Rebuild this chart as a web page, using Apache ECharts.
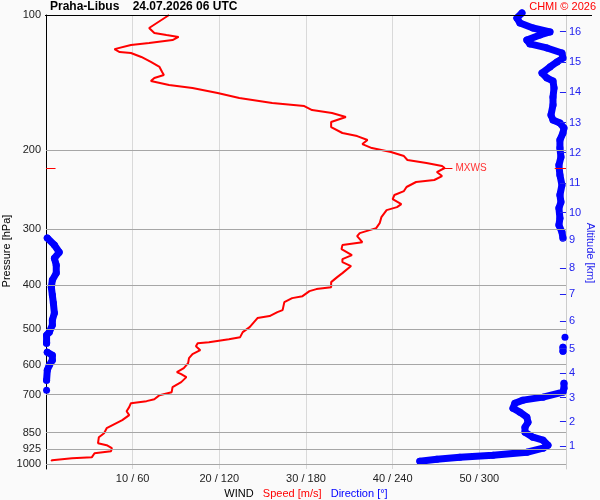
<!DOCTYPE html>
<html><head><meta charset="utf-8">
<script src="https://cdn.jsdelivr.net/npm/echarts@6/dist/echarts.min.js"></script>
<style>html,body{margin:0;padding:0;background:#fafafa}#c{width:600px;height:500px}</style>
</head><body><div id="c"></div>
<script>
// ---- data ----
const titleText = 'Praha-Libus    24.07.2026 06 UTC';
const creditText = 'CHMI © 2026';
const pressureTicks = [100, 200, 300, 400, 500, 600, 700, 850, 925, 1000];
const speedTicks = [10, 20, 30, 40, 50];
const speedTickLabels = ['10 / 60', '20 / 120', '30 / 180', '40 / 240', '50 / 300'];
const altitudeKm = [1, 2, 3, 4, 5, 6, 7, 8, 9, 10, 11, 12, 13, 14, 15, 16];
const altitudePressure = [911.1, 804.4, 711.2, 627.7, 553.3, 480.0, 418.6, 366.4, 316.9, 275.5, 236.3, 202.6, 173.7, 148.6, 127.4, 108.9];
const mxwsPressure = 219.1;
const mxwsSpeed = 46.0;

// wind speed profile (hPa, m/s)
const speedLevels = [100,106.9,109.7,110.8,111.9,113.7,115.4,116.6,119.1,120.9,
121.5,124.0,127.2,130.5,133.9,136.0,138.1,140.3,143.2,145.4,
149.2,153.1,157.0,159.5,162.8,165.3,168.7,173.1,177.6,183.1,
186.0,189.8,193.8,197.8,201.9,206.1,210.3,213.6,216.9,219.1,
223.7,228.3,233.0,235.4,241.5,246.6,251.6,256.9,263.6,267.7,
271.9,281.8,290.7,298.2,305.9,310.7,320.4,325.3,332.1,342.5,
349.6,354.9,362.2,375.5,383.3,393.3,403.5,407.6,411.9,422.6,
426.9,435.8,453.9,458.6,468.1,472.9,482.7,495.3,508.2,521.4,
526.8,535.0,537.7,546.1,557.4,568.9,580.7,595.7,611.2,623.9,
630.3,640.1,656.7,673.8,691.3,702.0,716.6,723.9,731.4,746.5,
762.1,765.9,777.8,798.0,814.6,831.5,853.1,870.8,898.0,907.3,
921.4,935.6,945.3,964.7,969.6,979.7,984.7];
const speedValues = [14.2,11.9,12.5,13.9,15.3,14.6,11.9,9.8,7.9,8.5,
9.8,11.0,12.1,13.1,13.4,13.6,12.5,12.1,14.2,16.9,
19.8,22.3,26.1,29.8,30.7,33.0,34.6,32.9,32.9,34.2,
35.9,37.1,36.5,37.6,39.8,41.3,41.7,43.9,45.7,46.0,
45.1,45.7,44.8,42.7,41.6,41.3,40.2,40.0,41.0,40.5,
39.3,38.7,38.5,38.1,36.2,35.9,36.5,34.2,34.1,35.3,
34.2,34.2,35.2,34.2,33.6,32.9,32.9,31.2,30.4,29.6,
28.4,27.5,27.3,26.7,25.8,24.4,24.0,23.5,22.7,22.4,
21.1,18.8,17.5,17.3,17.8,16.9,16.5,16.4,15.9,15.1,
15.6,16.2,15.6,14.6,14.5,13.1,12.5,11.6,9.8,9.6,
9.3,9.4,9.6,8.8,7.9,7.0,6.7,6.1,6.0,7.0,
7.6,7.5,5.6,5.3,3.0,0.7,0.6];

// wind direction profile (hPa, degrees); null = break (wrap 360/0)
const dirLevels = [99.0,101.5,104.2,106.9,109.1,110.8,113.7,116.0,118.4,121.5,
124.7,127.2,130.5,134.6,138.1,140.3,145.4,152.3,158.7,167.0,
171.3,174.0,178.5,183.1,189.8,197.8,207.2,215.8,227.2,239.1,
251.6,260.9,269.1,283.3,293.6,304.3,313.8,null,
313.8,325.3,337.3,347.8,360.5,375.5,389.2,403.5,420.3,437.9,
460.9,477.8,490.2,508.2,516.1,535.0,537.7,null,
521.4,null,
548.8,560.2,null,
563.1,571.9,586.8,602.0,617.6,650.1,null,
684.3,null,
660.2,677.3,691.3,709.2,720.2,731.4,750.4,765.9,785.8,806.5,
827.4,848.7,870.8,884.3,907.3,921.4,940.6,954.9,964.7,974.7,984.7];
const dirValues = [329.5,326.0,328.1,337.1,348.9,342.0,332.9,335.0,346.8,357.2,
357.9,353.8,348.9,343.4,346.8,351.0,351.7,351.0,351.0,349.6,
351.0,355.8,358.6,357.9,355.8,355.8,356.5,355.1,355.8,357.2,
355.8,356.5,355.1,355.8,355.1,357.2,357.9,null,
0.9,5.8,9.2,5.8,7.1,7.1,4.4,3.7,4.4,5.1,
5.8,4.4,4.4,2.3,0.4,0.4,0.4,null,
359.3,null,
357.9,357.9,null,
0.9,4.4,4.4,2.3,0.9,0.4,null,
0.4,null,
358.6,358.6,357.9,344.1,330.2,324.6,323.3,328.1,332.9,333.7,
331.6,331.6,337.1,344.1,347.5,344.1,332.9,309.4,286.5,270.6,258.8];

// ---- chart ----
const FONT = "'Liberation Sans', Arial, sans-serif";
const speedData = speedLevels.map((p, i) => [speedValues[i], p]);
const dirData = dirLevels.map((p, i) => p === null ? ['-', '-'] : [dirValues[i], p]);

const chart = echarts.init(document.getElementById('c'));
chart.setOption({
  backgroundColor: '#fafafa',
  animation: false,
  textStyle: { fontFamily: FONT },
  title: [
    { text: titleText, left: 50, top: 1, padding: 0,
      textStyle: { fontSize: 12, fontWeight: 'bold', color: '#000', fontFamily: FONT } },
    { text: creditText, right: 4, top: 1, padding: 0,
      textStyle: { fontSize: 11, fontWeight: 'normal', color: '#ff0000', fontFamily: FONT } }
  ],
  grid: { left: 46, right: 34, top: 15, bottom: 31, containLabel: false, outerBoundsMode: 'none' },
  xAxis: [
    { type: 'value', min: 0, max: 60, interval: 10,
      axisLine: { show: false }, axisTick: { show: false },
      splitLine: { show: true, lineStyle: { color: '#d9d9d9', width: 1 } },
      axisLabel: { fontSize: 11, color: '#222', margin: 4, fontFamily: FONT,
        formatter: v => { const i = speedTicks.indexOf(v); return i >= 0 ? speedTickLabels[i] : ''; } },
      name: '{w|WIND}   {s|Speed [m/s]}   {d|Direction [°]}',
      nameLocation: 'middle', nameGap: 16,
      nameTextStyle: { fontSize: 11, fontFamily: FONT,
        rich: { w: { color: '#000', fontSize: 11, fontFamily: FONT },
                s: { color: '#ff0000', fontSize: 11, fontFamily: FONT },
                d: { color: '#0000ff', fontSize: 11, fontFamily: FONT } } } },
    { type: 'value', min: 0, max: 360, show: false }
  ],
  yAxis: [
    { type: 'log', logBase: 10, min: 100, max: 1025, inverse: true, position: 'left',
      axisLine: { show: true, onZero: false, lineStyle: { color: '#000', width: 1 } },
      axisTick: { show: false }, axisLabel: { show: false }, splitLine: { show: false } },
    { type: 'log', logBase: 10, min: 100, max: 1025, inverse: true, position: 'right',
      axisLine: { show: true, onZero: false, lineStyle: { color: '#cccccc', width: 1 } },
      axisTick: { show: false }, axisLabel: { show: false }, splitLine: { show: false } }
  ],
  graphic: [
    { type: 'line', shape: { x1: 45, y1: 15.5, x2: 592, y2: 15.5 }, style: { stroke: '#000', lineWidth: 1 }, z: 10 },
    { type: 'text', x: 7, y: 251, rotation: Math.PI / 2,
      style: { text: 'Pressure [hPa]', fill: '#000', font: '11px ' + FONT, align: 'center', verticalAlign: 'middle' } },
    { type: 'text', x: 590, y: 253, rotation: -Math.PI / 2,
      style: { text: 'Altitude [km]', fill: '#2222ee', font: '11px ' + FONT, align: 'center', verticalAlign: 'middle' } }
  ],
  series: [
    { // pressure grid lines + labels
      type: 'line', xAxisIndex: 0, yAxisIndex: 0, data: [], z: 1, silent: true,
      markLine: {
        silent: true, symbol: ['none', 'none'], animation: false,
        lineStyle: { color: '#a6a6a6', width: 1, type: 'solid' },
        label: { show: true, position: 'start', distance: 5, formatter: '{b}', color: '#222', fontSize: 11, fontFamily: FONT },
        data: pressureTicks.map(p => ({ yAxis: p, name: String(p),
          lineStyle: p === 100 ? { color: '#000', width: 1, type: 'solid' } : { color: '#a6a6a6', width: 1, type: 'solid' } }))
      }
    },
    { // wind direction
      type: 'line', xAxisIndex: 1, yAxisIndex: 0, data: dirData, z: 3,
      clip: false, connectNulls: false,
      symbol: 'circle', symbolSize: 7, showSymbol: true, showAllSymbol: true,
      itemStyle: { color: '#0000ff' },
      lineStyle: { color: '#0000ff', width: 7, cap: 'round', join: 'round' },
      markLine: {
        silent: true, symbol: ['none', 'none'], animation: false,
        lineStyle: { color: '#2222ee', width: 1, type: 'solid' },
        label: { show: true, position: 'end', distance: 3, formatter: '{b}', color: '#2222ee', fontSize: 11, fontFamily: FONT },
        data: altitudeKm.map((km, i) => [
          { name: String(km), coord: [355.8, altitudePressure[i]] },
          { coord: [360, altitudePressure[i]] }
        ])
      }
    },
    { // wind speed
      type: 'line', xAxisIndex: 0, yAxisIndex: 0, data: speedData, z: 4,
      symbol: 'none', clip: false,
      lineStyle: { color: '#ff0000', width: 2 },
      markLine: {
        silent: true, symbol: ['none', 'none'], animation: false,
        lineStyle: { color: '#ff0000', width: 1, type: 'solid' },
        label: { show: false },
        data: [
          [ { coord: [0, mxwsPressure] }, { coord: [1.1, mxwsPressure] } ],
          [ { coord: [58.7, mxwsPressure] }, { coord: [60, mxwsPressure] } ],
          [ { name: 'MXWS', coord: [mxwsSpeed, mxwsPressure] }, { coord: [mxwsSpeed + 0.9, mxwsPressure],
            label: { show: true, position: 'end', distance: 3, formatter: '{b}', color: '#ff3333', fontSize: 10, fontFamily: FONT } } ]
        ]
      }
    }
  ]
});
</script>
</body></html>
